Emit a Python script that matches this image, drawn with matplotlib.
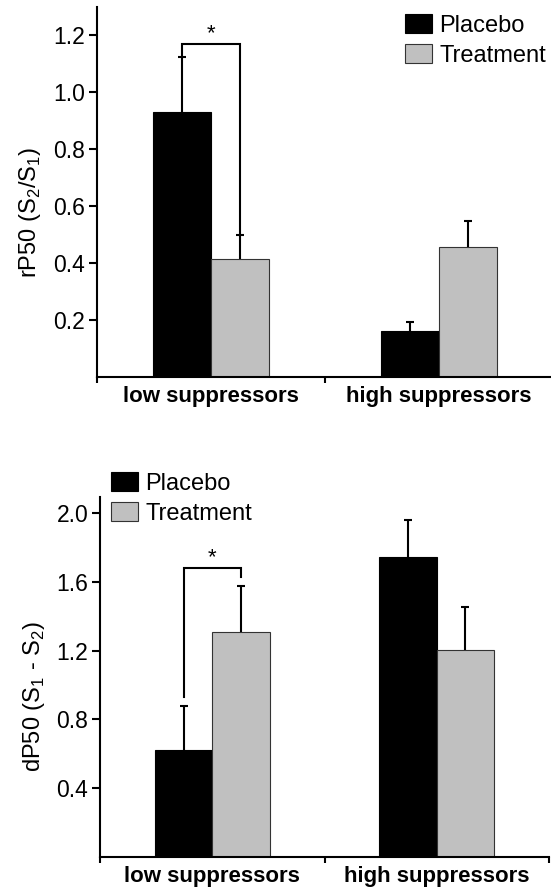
import matplotlib
matplotlib.use('Agg')
import matplotlib.pyplot as plt
from matplotlib.patches import Patch
import numpy as np

plt.rcParams['font.family'] = ['Liberation Sans', 'DejaVu Sans']
plt.rcParams['mathtext.fontset'] = 'custom'
plt.rcParams['mathtext.rm'] = 'Liberation Sans'

categories = ['low suppressors', 'high suppressors']
groups = ['Placebo', 'Treatment']

# top panel: rP50 (S2/S1)
rp50_placebo = [0.932, 0.161]
rp50_placebo_err = [0.191, 0.032]
rp50_treatment = [0.413, 0.455]
rp50_treatment_err = [0.084, 0.093]

# bottom panel: dP50 (S1 - S2)
dp50_placebo = [0.622, 1.743]
dp50_placebo_err = [0.256, 0.217]
dp50_treatment = [1.311, 1.204]
dp50_treatment_err = [0.265, 0.252]

BLACK = '#000000'
GREY = '#c0c0c0'
W = 0.256


def draw_panel(ax, plac, plac_err, treat, treat_err, ylim, yticks, ylabel,
               sig_top, sig_gap):
    x = np.arange(len(categories))
    ekw = dict(elinewidth=1.5, capsize=3, capthick=1.5, ecolor='black')
    b1 = ax.bar(x - W / 2, plac, W, color=BLACK, edgecolor=BLACK, linewidth=0.8,
                yerr=[np.zeros(len(plac)), plac_err], error_kw=ekw, zorder=2)
    b2 = ax.bar(x + W / 2, treat, W, color=GREY, edgecolor='#333333', linewidth=0.8,
                yerr=[np.zeros(len(treat)), treat_err], error_kw=ekw, zorder=2)
    # only the upper cap is drawn in the original
    for b in (b1, b2):
        caps = b.errorbar.lines[1]
        caps[0].set_visible(False)

    # significance bracket for low suppressors
    y_left = plac[0] + plac_err[0] + sig_gap
    y_right = treat[0] + treat_err[0] + sig_gap
    ax.plot([x[0] - W / 2, x[0] - W / 2, x[0] + W / 2, x[0] + W / 2],
            [y_left, sig_top, sig_top, y_right], color='black', lw=1.5,
            solid_joinstyle='miter', zorder=3)
    ax.text(x[0], sig_top, '*', ha='center', va='bottom', fontsize=16)

    ax.set_xlim(-0.5, 1.5)
    ax.set_ylim(*ylim)
    ax.set_yticks(yticks)
    ax.set_yticklabels([f'{t:.1f}' for t in yticks])
    ax.set_xticks(x)
    ax.set_xticklabels(categories, fontweight='bold', fontsize=16)
    ax.set_xticks([-0.5, 0.5, 1.5], minor=True)
    ax.tick_params(axis='x', which='major', length=0, pad=7)
    ax.tick_params(axis='x', which='minor', length=4, width=1.5, direction='out')
    ax.tick_params(axis='y', which='major', length=5.5, width=1.5,
                   direction='out', labelsize=16.5, pad=3)
    for s in ['top', 'right']:
        ax.spines[s].set_visible(False)
    for s in ['left', 'bottom']:
        ax.spines[s].set_linewidth(1.5)
    ax.set_ylabel(ylabel, fontsize=17)
    ax.yaxis.set_label_coords(-0.118, 0.445)


fig = plt.figure(figsize=(5.51, 8.9), dpi=100)
ax1 = fig.add_axes([97 / 551, 1 - 376.7 / 890, 456 / 551, 369.7 / 890])
ax2 = fig.add_axes([100 / 551, 1 - 856.7 / 890, 449 / 551, 360 / 890])

draw_panel(ax1, rp50_placebo, rp50_placebo_err, rp50_treatment, rp50_treatment_err,
           (0, 1.3), [0.2, 0.4, 0.6, 0.8, 1.0, 1.2],
           r'rP50 (S$_\mathregular{2}$/S$_\mathregular{1}$)', 1.17, 0.0)
draw_panel(ax2, dp50_placebo, dp50_placebo_err, dp50_treatment, dp50_treatment_err,
           (0, 2.096), [0.4, 0.8, 1.2, 1.6, 2.0],
           r'dP50 (S$_\mathregular{1}$ - S$_\mathregular{2}$)', 1.68, 0.05)

handles = [Patch(facecolor=BLACK, edgecolor=BLACK, linewidth=0.8),
           Patch(facecolor=GREY, edgecolor='#333333', linewidth=0.8)]
leg_kw = dict(loc='upper left', bbox_transform=fig.transFigure, frameon=False,
              borderpad=0, borderaxespad=0, handlelength=1.15, handleheight=0.85,
              handletextpad=0.3, labelspacing=0.33, fontsize=17)
ax1.legend(handles, groups, bbox_to_anchor=(405 / 551, 1 - 14 / 890), **leg_kw)
ax2.legend(handles, groups, bbox_to_anchor=(111 / 551, 1 - 472 / 890), **leg_kw)

fig.savefig('out.png', dpi=100)
